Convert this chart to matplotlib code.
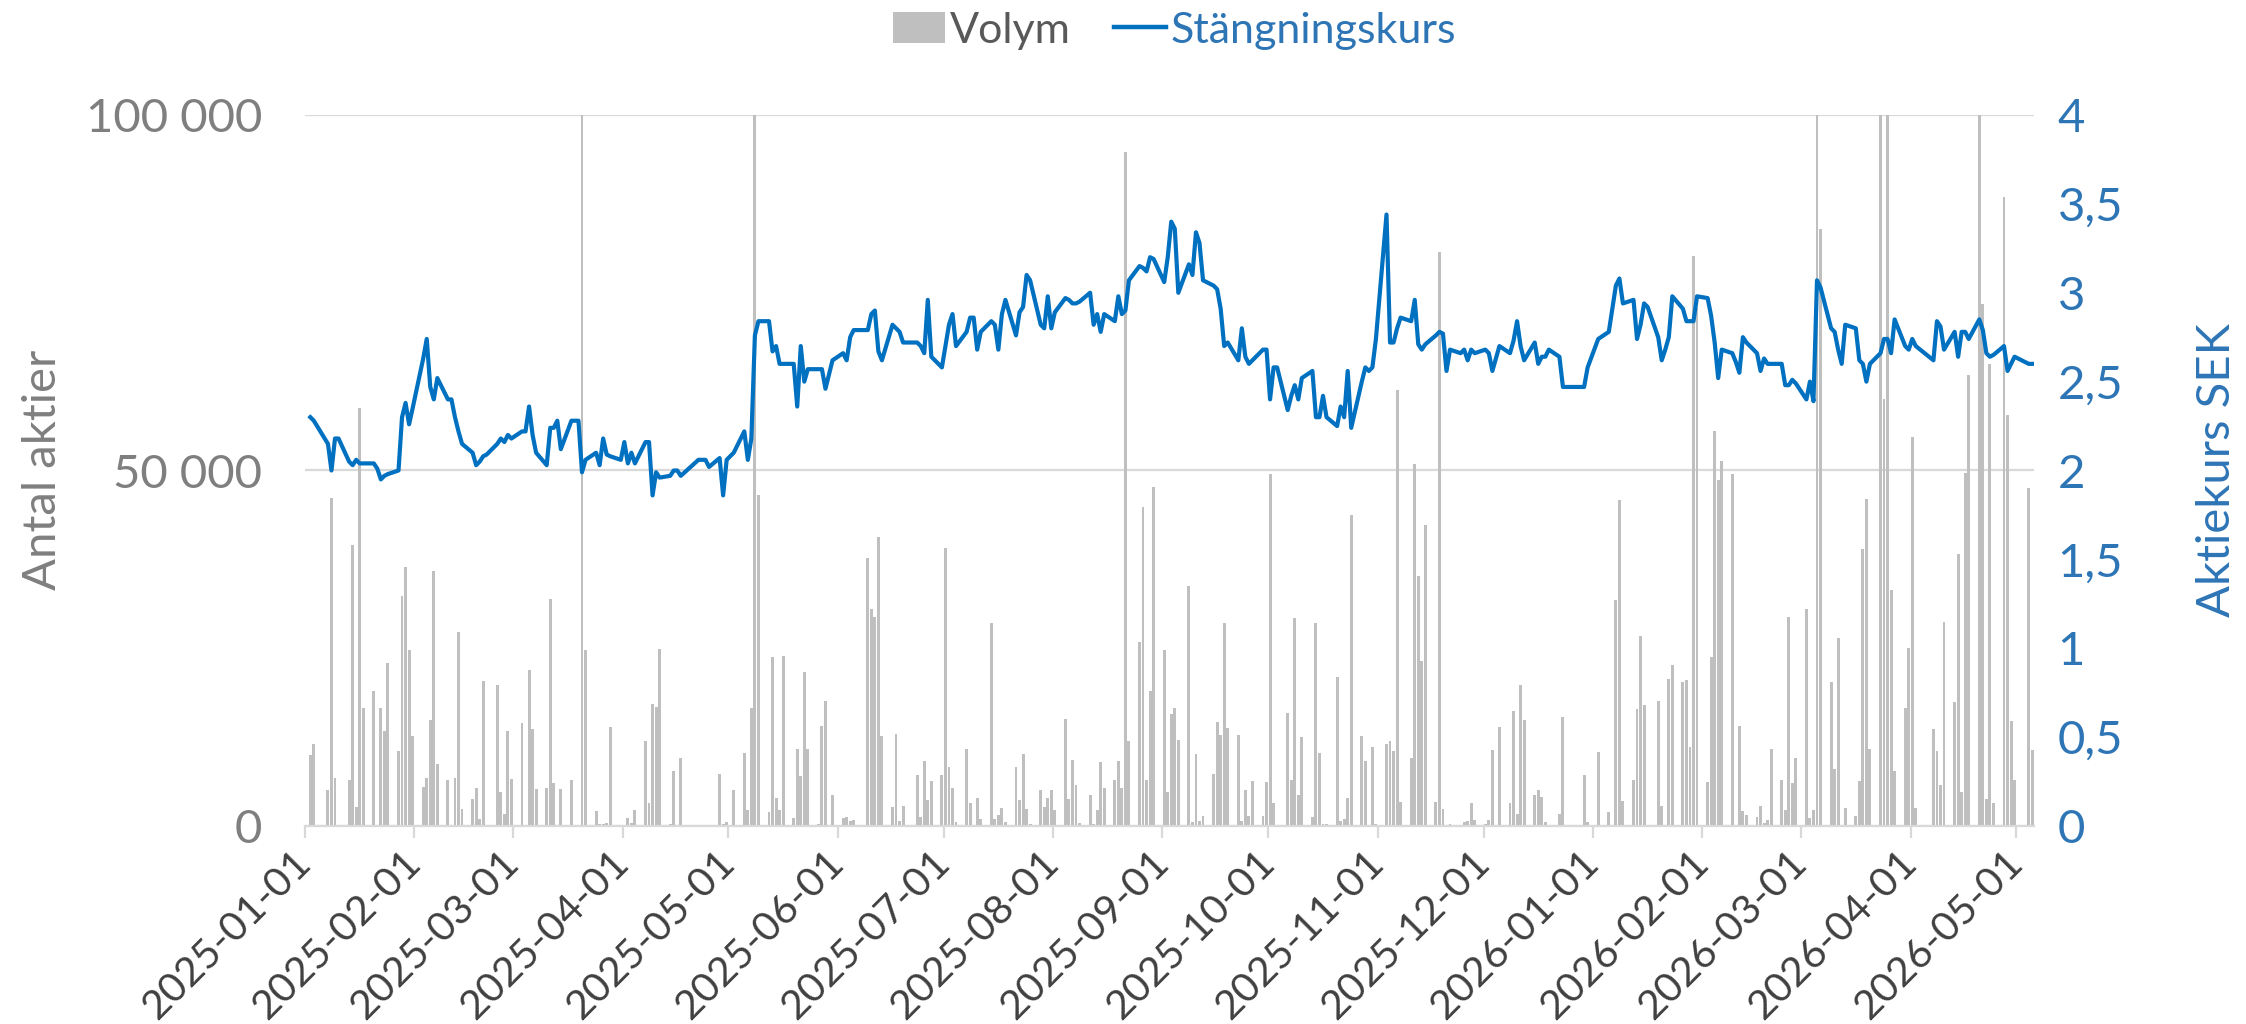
import numpy as np
import pandas as pd
import matplotlib
matplotlib.use("Agg")
import matplotlib.pyplot as plt
import matplotlib.dates as mdates
from matplotlib.lines import Line2D
from matplotlib.patches import Patch
from matplotlib.ticker import FuncFormatter

# ---------------- data ----------------
holidays = ["2025-01-01", "2025-01-06", "2025-04-18", "2025-04-21", "2025-05-01",
            "2025-05-29", "2025-06-06", "2025-06-20", "2025-12-24", "2025-12-25",
            "2025-12-26", "2025-12-31", "2026-01-01", "2026-01-06", "2026-04-03",
            "2026-04-06", "2026-05-01"]
dates = pd.bdate_range("2025-01-02", "2026-05-05", freq="C", holidays=holidays)

close_2025_01 = [2.30, 2.28, 2.15, 2.00, 2.18, 2.18, 2.05, 2.03, 2.06, 2.04, 2.04, 2.04, 2.01, 1.95, 1.97, 1.98, 2.00, 2.30, 2.38, 2.26, 2.35]
close_2025_02 = [2.63, 2.74, 2.47, 2.40, 2.52, 2.40, 2.40, 2.30, 2.22, 2.15, 2.10, 2.03, 2.05, 2.08, 2.09, 2.15, 2.18, 2.16, 2.20, 2.18]
close_2025_03 = [2.22, 2.22, 2.36, 2.20, 2.10, 2.03, 2.24, 2.24, 2.28, 2.12, 2.28, 2.28, 2.28, 1.99, 2.06, 2.10, 2.03, 2.18, 2.09, 2.08, 2.06]
close_2025_04 = [2.16, 2.04, 2.10, 2.04, 2.16, 2.16, 1.86, 1.99, 1.96, 1.97, 2.00, 2.00, 1.97, 2.06, 2.06, 2.06, 2.02, 2.07, 1.86, 2.06]
close_2025_05 = [2.10, 2.22, 2.06, 2.18, 2.76, 2.84, 2.84, 2.67, 2.70, 2.60, 2.60, 2.60, 2.36, 2.70, 2.50, 2.57, 2.57, 2.57, 2.46, 2.62]
close_2025_06 = [2.66, 2.62, 2.75, 2.79, 2.79, 2.88, 2.90, 2.67, 2.62, 2.82, 2.80, 2.78, 2.72, 2.72, 2.70, 2.66, 2.96, 2.64, 2.58]
close_2025_07 = [2.70, 2.82, 2.88, 2.70, 2.78, 2.86, 2.86, 2.68, 2.78, 2.84, 2.82, 2.68, 2.88, 2.96, 2.76, 2.89, 2.92, 3.10, 3.07, 2.82, 2.80, 2.98, 2.80]
close_2025_08 = [2.89, 2.97, 2.96, 2.94, 2.94, 2.95, 3.00, 2.82, 2.88, 2.78, 2.88, 2.84, 2.98, 2.88, 2.90, 3.07, 3.15, 3.14, 3.12, 3.20, 3.19]
close_2025_09 = [3.06, 3.20, 3.40, 3.36, 3.00, 3.16, 3.10, 3.34, 3.28, 3.07, 3.04, 3.02, 2.91, 2.70, 2.72, 2.62, 2.80, 2.64, 2.60, 2.62, 2.68, 2.68]
close_2025_10 = [2.40, 2.58, 2.58, 2.34, 2.42, 2.48, 2.40, 2.52, 2.56, 2.30, 2.30, 2.42, 2.30, 2.25, 2.36, 2.30, 2.56, 2.24, 2.50, 2.58, 2.56, 2.58, 2.74]
close_2025_11 = [3.44, 2.72, 2.72, 2.80, 2.86, 2.84, 2.96, 2.71, 2.68, 2.71, 2.76, 2.78, 2.77, 2.56, 2.68, 2.66, 2.68, 2.62, 2.68, 2.66]
close_2025_12 = [2.68, 2.66, 2.56, 2.63, 2.70, 2.66, 2.73, 2.84, 2.70, 2.62, 2.72, 2.60, 2.64, 2.64, 2.68, 2.64, 2.47, 2.47, 2.58]
close_2026_01 = [2.74, 2.78, 3.04, 3.08, 2.94, 2.96, 2.74, 2.82, 2.94, 2.92, 2.75, 2.62, 2.68, 2.75, 2.98, 2.91, 2.84, 2.84, 2.84, 2.98]
close_2026_02 = [2.97, 2.87, 2.72, 2.52, 2.68, 2.66, 2.61, 2.55, 2.75, 2.72, 2.66, 2.56, 2.63, 2.60, 2.60, 2.60, 2.48, 2.48, 2.51, 2.49]
close_2026_03 = [2.40, 2.50, 2.39, 3.07, 3.03, 2.80, 2.78, 2.68, 2.60, 2.82, 2.80, 2.62, 2.60, 2.50, 2.60, 2.66, 2.74, 2.74, 2.66, 2.85, 2.70, 2.68]
close_2026_04 = [2.74, 2.70, 2.62, 2.84, 2.81, 2.68, 2.78, 2.64, 2.78, 2.78, 2.74, 2.85, 2.79, 2.66, 2.64, 2.65, 2.70, 2.56, 2.60, 2.64]
close_2026_05 = [2.60, 2.60]

vol_2025_01 = [10000, 11600, 5000, 46200, 6800, 0, 6500, 39500, 2650, 58800, 16600, 19000, 0, 16600, 13300, 22900, 10600, 32300, 36400, 24700, 12600]
vol_2025_02 = [5500, 6800, 14900, 35900, 8750, 6500, 0, 6800, 27300, 2450, 3850, 5300, 1000, 20400, 0, 19800, 4800, 1650, 13300, 6600]
vol_2025_03 = [14500, 0, 22000, 13600, 5200, 5400, 31900, 6000, 0, 5200, 6400, 0, 100, 150000, 24700, 2100, 330, 300, 450, 13900, 100]
vol_2025_04 = [100, 1100, 450, 2300, 11900, 3200, 17100, 16700, 24900, 300, 7800, 0, 9600, 50, 0, 0, 50, 7300, 300, 500]
vol_2025_05 = [5000, 10300, 2300, 16600, 150000, 46600, 2000, 23700, 4000, 2300, 23900, 1100, 10800, 7100, 21700, 10800, 300, 14100, 17600, 4400]
vol_2025_06 = [1100, 1300, 700, 900, 37700, 30500, 29400, 40600, 12700, 2650, 12900, 660, 2800, 7200, 1200, 9150, 3650, 6300, 7200]
vol_2025_07 = [39100, 8300, 5300, 500, 10900, 3300, 0, 4000, 1000, 28500, 1000, 1500, 2500, 500, 8300, 3600, 10100, 2450, 300, 5100, 2650, 4000, 5000]
vol_2025_08 = [2300, 15000, 3850, 9300, 5800, 460, 4400, 300, 2300, 8950, 5300, 6400, 9150, 5300, 94800, 11900, 25900, 44900, 6500, 19000, 47700]
vol_2025_09 = [24700, 4800, 15800, 16600, 12100, 33700, 500, 10100, 660, 1460, 7300, 14600, 12800, 28600, 13800, 12800, 660, 5000, 1460, 6300, 1460, 6200]
vol_2025_10 = [49500, 3300, 100, 15900, 6500, 29200, 4400, 12500, 1300, 28500, 10300, 300, 300, 20900, 660, 1000, 4000, 43800, 12600, 9150, 0, 11100, 300]
vol_2025_11 = [11600, 11900, 10600, 61300, 3400, 9600, 50900, 35100, 23200, 42300, 3400, 80800, 2450, 200, 300, 100, 500, 660, 3200, 900]
vol_2025_12 = [300, 900, 10700, 0, 13900, 3200, 16200, 1650, 19900, 14900, 4300, 5000, 4100, 500, 100, 1650, 15300, 7200, 500]
vol_2026_01 = [10400, 2000, 31800, 45900, 3500, 6400, 16400, 26700, 17000, 100, 17600, 2800, 100, 20700, 22700, 20200, 20600, 11100, 80100, 72800]
vol_2026_02 = [6200, 23700, 55500, 48700, 51400, 49500, 200, 14100, 2100, 1500, 1300, 2850, 460, 860, 10800, 6500, 2300, 29400, 6100, 9600]
vol_2026_03 = [30500, 1100, 2300, 150000, 84000, 20200, 8000, 26500, 100, 2500, 1460, 6300, 38900, 46000, 10800, 150000, 60100, 150000, 33200, 7800, 16600, 25100]
vol_2026_04 = [54700, 2500, 13700, 10600, 5800, 28700, 17400, 38300, 4800, 49700, 63500, 150000, 73400, 3800, 65000, 3300, 88500, 57800, 14800, 6500]
vol_2026_05 = [47500, 10700]

close = (close_2025_01 + close_2025_02 + close_2025_03 + close_2025_04 + close_2025_05 + close_2025_06 +
         close_2025_07 + close_2025_08 + close_2025_09 + close_2025_10 + close_2025_11 + close_2025_12 +
         close_2026_01 + close_2026_02 + close_2026_03 + close_2026_04 + close_2026_05)
volume = (vol_2025_01 + vol_2025_02 + vol_2025_03 + vol_2025_04 + vol_2025_05 + vol_2025_06 +
          vol_2025_07 + vol_2025_08 + vol_2025_09 + vol_2025_10 + vol_2025_11 + vol_2025_12 +
          vol_2026_01 + vol_2026_02 + vol_2026_03 + vol_2026_04 + vol_2026_05)

month_ticks = pd.date_range("2025-01-01", "2026-05-01", freq="MS")
x_start, x_end = "2025-01-01", "2026-05-06"

# ---------------- style ----------------
plt.rcParams['font.family'] = ['Lato', 'DejaVu Sans']
GRAY_BAR = "#bfbfbf"
BLUE = "#0070c0"
BLUE_TXT = "#2e75b6"
GRAY_TXT = "#7f7f7f"
GRID = "#d9d9d9"

W, H = 2246, 1024
fig = plt.figure(figsize=(W / 100, H / 100), dpi=100)
L, R, T, B = 305, 2034, 115, 826
ax = fig.add_axes([L / W, 1 - B / H, (R - L) / W, (B - T) / H])

xd = mdates.date2num(dates) + 0.5
ax.bar(xd, volume, width=0.82, color=GRAY_BAR, zorder=2, linewidth=0)
ax.set_ylim(0, 100000)
ax.set_xlim(mdates.date2num(pd.Timestamp(x_start)), mdates.date2num(pd.Timestamp(x_end)))
ax.set_yticks([0, 50000, 100000])
ax.yaxis.set_major_formatter(FuncFormatter(lambda v, p: f"{int(v):,}".replace(",", " ")))
ax.grid(axis='y', color=GRID, linewidth=1.6, zorder=0)
ax.set_axisbelow(True)
for s in ['top', 'right', 'left']:
    ax.spines[s].set_visible(False)
ax.spines['bottom'].set_color(GRID)
ax.spines['bottom'].set_linewidth(1.6)
ax.tick_params(axis='y', length=0, pad=31, labelsize=34, labelcolor=GRAY_TXT)

ax.set_xticks(mdates.date2num(month_ticks))
ax.set_xticklabels([t.strftime("%Y-%m-%d") for t in month_ticks], rotation=45,
                   ha='right', va='center', rotation_mode='anchor', fontsize=29.5, color='#404040')
ax.tick_params(axis='x', length=8.6, width=1.6, color=GRID, pad=14)

ax2 = ax.twinx()
ax2.plot(xd, close, color=BLUE, linewidth=3.0, solid_joinstyle='round', zorder=3)
ax2.set_ylim(0, 4)
ax2.set_yticks(np.arange(0, 4.01, 0.5))
ax2.yaxis.set_major_formatter(FuncFormatter(lambda v, p: f"{v:g}".replace(".", ",")))
ax2.tick_params(axis='y', length=0, pad=17, labelsize=34, labelcolor=BLUE_TXT)
for s in ax2.spines.values():
    s.set_visible(False)

fig.text(43 / W, 1 - 470 / H, "Antal aktier", rotation=90, ha='center', va='center',
         fontsize=34, color=GRAY_TXT)
fig.text(2217 / W, 1 - 470 / H, "Aktiekurs SEK", rotation=90, ha='center', va='center',
         fontsize=34, color=BLUE_TXT)

handles = [Patch(facecolor=GRAY_BAR, edgecolor='none'), Line2D([0], [0], color=BLUE, lw=3.2)]
leg = fig.legend(handles, ["Volym", "Stängningskurs"], loc='center', bbox_to_anchor=(0.523, 0.970),
                 ncol=2, frameon=False, fontsize=31, handlelength=1.2, handleheight=0.75,
                 handletextpad=0.12, columnspacing=1.0)
leg.get_texts()[0].set_color("#595959")
leg.get_texts()[1].set_color(BLUE_TXT)

fig.savefig("out.png", dpi=100)
